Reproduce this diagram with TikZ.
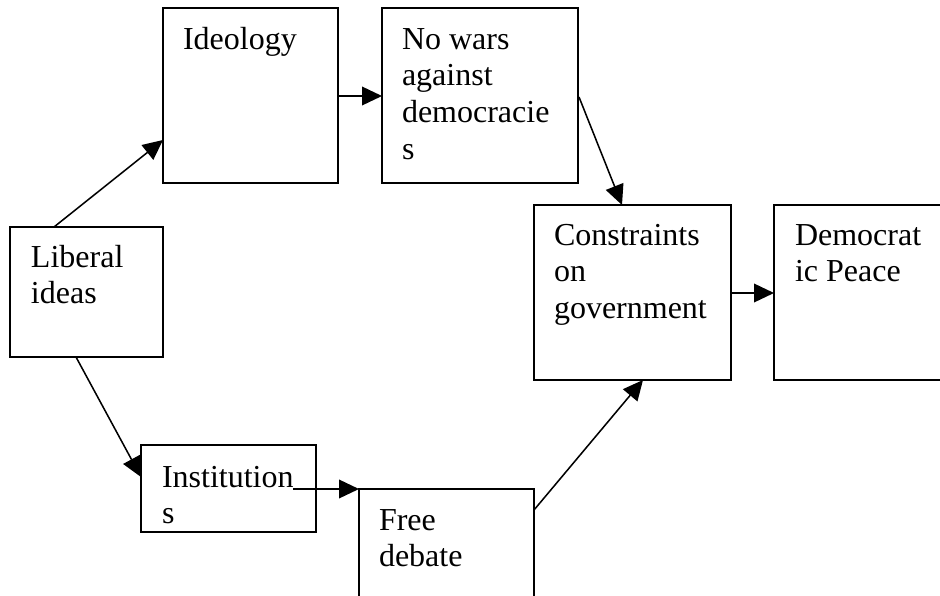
\documentclass[tikz,border=0pt]{standalone}
\usepackage{fontspec}
\setmainfont{Liberation Serif}
\usetikzlibrary{arrows.meta,calc}
\newcommand{\topstrut}{\rule{0pt}{18pt}}
\begin{document}
\begin{tikzpicture}[x=0.75pt,y=-0.75pt,
  box/.style={draw=black,line width=1.4pt,fill=none,inner sep=0pt,outer sep=0pt,anchor=north west},
  lbl/.style={inner sep=0pt,outer sep=0pt,anchor=north west,align=left,font=\fontsize{24pt}{27.5pt}\selectfont},
  conn/.style={line width=1.15pt,-{Triangle[length=15pt,width=14pt]}}]
\useasboundingbox (0,0) rectangle (940,596);
\clip (0,0) rectangle (940,596);
% boxes
\node[box,minimum width=114.75pt,minimum height=97.5pt] (lib) at (10,227) {};
\node[box,minimum width=131.25pt,minimum height=131.25pt] (ideo) at (163,8) {};
\node[box,minimum width=147pt,minimum height=131.25pt] (nowar) at (382,8) {};
\node[box,minimum width=147.75pt,minimum height=131.25pt] (cons) at (534,205) {};
\node[box,minimum width=150pt,minimum height=131.25pt] (dem) at (774,205) {};
\node[box,minimum width=131.25pt,minimum height=65.25pt] (inst) at (141,445) {};
\node[box,minimum width=131.25pt,minimum height=105pt] (free) at (359,489) {};
% labels (first baseline 24px below the node top)
\node[lbl] (tlib) at ($(lib.north west)+(21,16)$) {\topstrut Liberal\\ideas};
\node[lbl] (tideo) at ($(ideo.north west)+(20,17)$) {\topstrut Ideology};
\node[lbl] (tnowar) at ($(nowar.north west)+(20,17)$) {\topstrut No wars\\against\\democracie\\s};
\node[lbl] (tcons) at ($(cons.north west)+(20,16)$) {\topstrut Constraints\\on\\government};
\node[lbl] (tdem) at ($(dem.north west)+(21,16)$) {\topstrut Democrat\\ic Peace};
\node[lbl] (tinst) at ($(inst.north west)+(21,18)$) {\topstrut Institution\\s};
\node[lbl] (tfree) at ($(free.north west)+(20,17)$) {\topstrut Free\\debate};
% connectors
\draw[conn] ($(lib.north west)+(44,0)$) -- ($(ideo.north west)+(0,132)$);
\draw[conn] ($(ideo.north east)+(0,88)$) -- ($(nowar.north west)+(0,88)$);
\draw[conn] ($(nowar.north east)+(1,89)$) -- ($(cons.north west)+(88,0)$);
\draw[conn] ($(cons.north east)+(0,88)$) -- ($(dem.north west)+(0,88)$);
\draw[conn] ($(lib.south west)+(66,0)$) -- ($(inst.north west)+(0,32)$);
\draw[conn] ($(inst.north west)+(152,44)$) -- (free.north west);
\draw[conn] ($(free.north east)+(0,21)$) -- ($(cons.south west)+(109,0)$);
\end{tikzpicture}
\end{document}
